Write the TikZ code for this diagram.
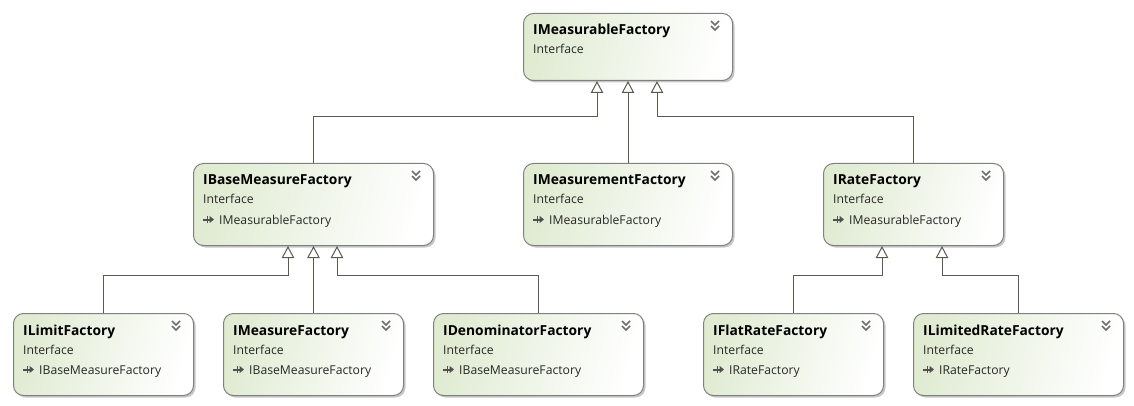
\documentclass[tikz,border=0pt]{standalone}
\usepackage{fontspec}
\setmainfont{Open Sans}
\usetikzlibrary{arrows.meta,shadows,calc}
\definecolor{boxgreen}{RGB}{224,235,210}
\definecolor{boxborder}{RGB}{128,128,128}
\definecolor{conn}{RGB}{90,90,80}
\definecolor{icon}{RGB}{110,110,110}
\definecolor{arricon}{RGB}{80,80,80}
\definecolor{txt}{RGB}{40,40,40}
\tikzset{
  ubox/.style={draw=boxborder, line width=1pt, rounded corners=10pt,
    left color=boxgreen, right color=white, shading angle=75,
    drop shadow={shadow xshift=2pt, shadow yshift=-2pt, fill=black, opacity=0.22},
    inner sep=0pt, anchor=north west},
  titletxt/.style={anchor=base west, inner sep=0pt, font=\fontsize{13.8}{16}\selectfont\bfseries, text=black},
  subtxt/.style={anchor=base west, inner sep=0pt, font=\fontsize{12.2}{14}\selectfont, text=txt},
  inh/.style={draw=conn, line width=1pt, -{Triangle[open, length=12pt, width=12.5pt, fill=white]}},
  chev/.style={draw=icon, line width=1.6pt},
}
\newcommand{\ifbox}[7]{% name, x, y, w, h, title, parent
  \node[ubox, minimum width=#4pt, minimum height=#5pt] (#1) at (#2,#3) {};
  \node[titletxt] (#1-title) at ($(#2,#3)+(10,22)$) {#6};
  \node[subtxt] (#1-kind) at ($(#2,#3)+(10,41)$) {Interface};
  \draw[chev] ($(#2,#3)+(#4,0)+(-21,8)$) -- ++(4,4) -- ++(4,-4);
  \draw[chev] ($(#2,#3)+(#4,0)+(-21,13)$) -- ++(4,4) -- ++(4,-4);
  \ifx&#7&\else
    \node[subtxt] (#1-parent) at ($(#2,#3)+(26,61)$) {#7};
    \draw[arricon, line width=2pt, -{Triangle[length=4.5pt,width=7pt]}] ($(#2,#3)+(10,56.5)$) -- ++(11,0);
    \draw[arricon, line width=1pt] ($(#2,#3)+(14.5,53)$) -- ++(0,7);
  \fi
}
\begin{document}
\begin{tikzpicture}[x=1pt,y=-1pt]
\useasboundingbox (0,0) rectangle (1134,406);
\ifbox{top}{523}{13}{209}{67}{IMeasurableFactory}{}
\ifbox{base}{193}{163}{240}{82}{IBaseMeasureFactory}{IMeasurableFactory}
\ifbox{meas}{523}{163}{209}{82}{IMeasurementFactory}{IMeasurableFactory}
\ifbox{rate}{823}{163}{180}{82}{IRateFactory}{IMeasurableFactory}
\ifbox{limit}{13}{313}{180}{82}{ILimitFactory}{IBaseMeasureFactory}
\ifbox{measure}{223}{313}{180}{82}{IMeasureFactory}{IBaseMeasureFactory}
\ifbox{denom}{433}{313}{210}{82}{IDenominatorFactory}{IBaseMeasureFactory}
\ifbox{flat}{703}{313}{180}{82}{IFlatRateFactory}{IRateFactory}
\ifbox{limited}{913}{313}{210}{82}{ILimitedRateFactory}{IRateFactory}
% junctions
\coordinate (j1) at (597,117);
\coordinate (j2) at (657,117);
\coordinate (j3) at (288,275);
\coordinate (j4) at (337,275);
\coordinate (j5) at (882,275);
\coordinate (j6) at (942,275);
\draw[inh] (base.north) |- (j1) -- (j1 |- top.south);
\draw[inh] (meas.north) -- (meas.north |- top.south);
\draw[inh] (rate.north) |- (j2) -- (j2 |- top.south);
\draw[inh] (limit.north) |- (j3) -- (j3 |- base.south);
\draw[inh] (measure.north) -- (measure.north |- base.south);
\draw[inh] (denom.north) |- (j4) -- (j4 |- base.south);
\draw[inh] (flat.north) |- (j5) -- (j5 |- rate.south);
\draw[inh] (limited.north) |- (j6) -- (j6 |- rate.south);
\end{tikzpicture}
\end{document}
